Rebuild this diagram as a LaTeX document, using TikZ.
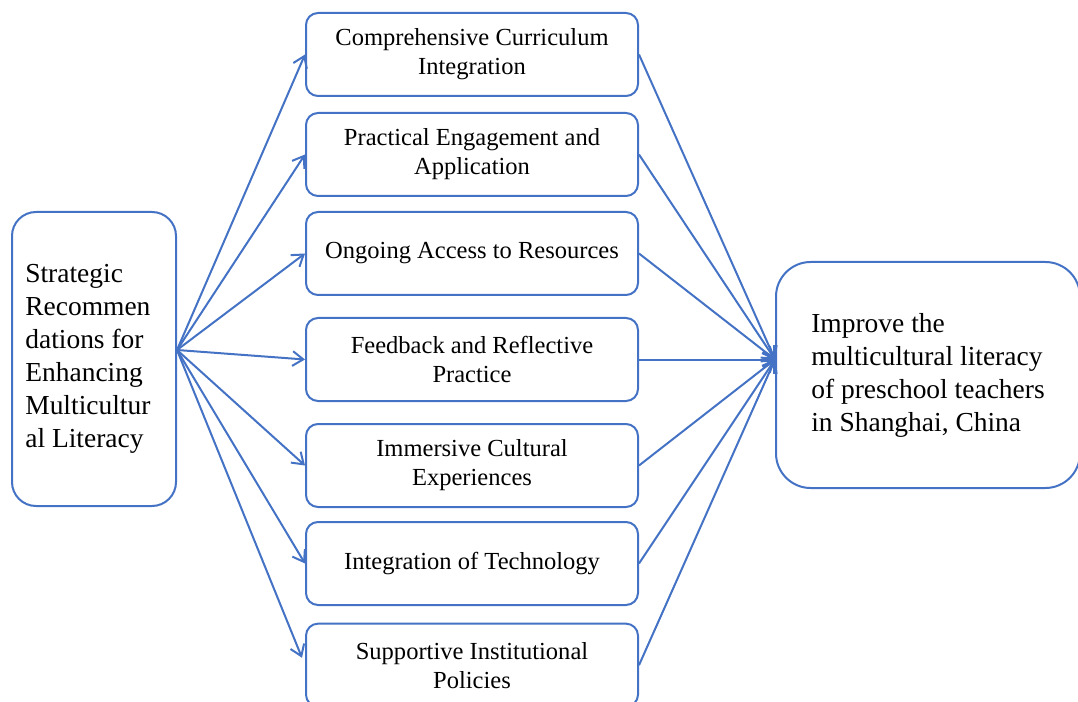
\documentclass[tikz,border=0pt]{standalone}
\usepackage{fontspec}
\setmainfont{Liberation Serif}
\usepackage{tikz}
\usetikzlibrary{positioning,arrows.meta}
\usepackage{xcolor}
\definecolor{linkblue}{RGB}{68,114,196}

\begin{document}
\begin{tikzpicture}[
  x=0.75pt, y=-0.75pt,
  box/.style={draw=linkblue, line width=1.5pt, rounded corners=9pt, text=black},
  src/.style={box, rounded corners=18pt, minimum width=123pt, minimum height=220.5pt,
    text width=103pt, inner xsep=10pt, align=flush left, font=\fontsize{20.6}{24.75}\selectfont},
  strat/.style={box, minimum width=249pt, minimum height=62.25pt, align=center,
    font=\fontsize{18.4}{21.75}\selectfont},
  goal/.style={box, rounded corners=26pt, minimum width=228pt, minimum height=169.5pt,
    align=flush left, font=\fontsize{20.6}{24.75}\selectfont},
  link/.style={draw=linkblue, line width=1.5pt, -{Straight Barb[length=8pt,width=11pt]}},
]
  \useasboundingbox (0,0) rectangle (1078,702);

  % Source and target
  \node[src] (rec) at (94,359) {Strategic\\Recommen\\dations for\\Enhancing\\Multicultur\\al Literacy};
  \node[goal] (goal) at (928,375) {Improve the\\multicultural literacy\\of preschool teachers\\in Shanghai, China};

  % Strategy column
  \node[strat] (curr) at (472,54.5) {Comprehensive Curriculum\\Integration};
  \node[strat, below=11.25pt of curr] (prac) {Practical Engagement and\\Application};
  \node[strat, below=10.5pt of prac] (res) {Ongoing Access to Resources};
  \node[strat, below=15.75pt of res] (fb) {Feedback and Reflective\\Practice};
  \node[strat, below=15.75pt of fb] (imm) {Immersive Cultural\\Experiences};
  \node[strat, below=9.75pt of imm] (tech) {Integration of Technology};
  \node[strat, below=12.5pt of tech] (pol) {Supportive Institutional\\Policies};

  % Fan-out and fan-in points
  \coordinate (fork) at ([yshift=6.75pt]rec.east);
  \coordinate (join) at (goal.west |- fb.east);

  % Arrows from the recommendations to each strategy
  \draw[link] (fork) -- (curr.west);
  \draw[link] (fork) -- (prac.west);
  \draw[link] (fork) -- (res.west);
  \draw[link] (fork) -- (fb.west);
  \draw[link] (fork) -- (imm.west);
  \draw[link] (fork) -- (tech.west);
  \draw[link, shorten >=6pt] (fork) -- (pol.west);

  % Arrows from each strategy to the goal
  \draw[link] (curr.east) -- (join);
  \draw[link] (prac.east) -- (join);
  \draw[link] (res.east) -- (join);
  \draw[link] (fb.east) -- (join);
  \draw[link] (imm.east) -- (join);
  \draw[link] (tech.east) -- (join);
  \draw[link] (pol.east) -- (join);
\end{tikzpicture}
\end{document}
